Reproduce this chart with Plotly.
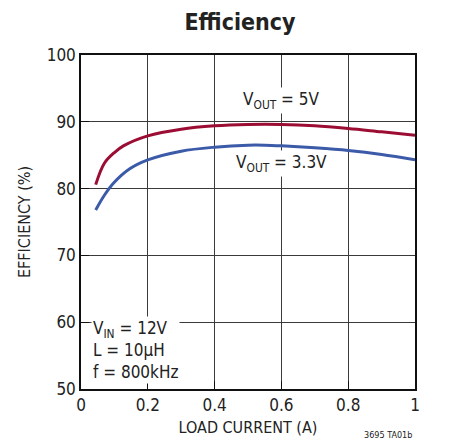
import plotly.graph_objects as go

x_5v = [0.044, 0.07, 0.1, 0.127, 0.2, 0.3, 0.4, 0.5, 0.6, 0.7, 0.8, 0.9, 1.0]
eff_5v = [80.6, 83.8, 85.4, 86.4, 87.9, 88.9, 89.4, 89.6, 89.6, 89.4, 89.0, 88.5, 88.0]
x_33v = [0.044, 0.07, 0.097, 0.147, 0.2, 0.3, 0.4, 0.5, 0.55, 0.6, 0.7, 0.8, 0.9, 1.0]
eff_33v = [76.8, 79.0, 80.8, 83.0, 84.3, 85.6, 86.2, 86.5, 86.5, 86.4, 86.1, 85.7, 85.1, 84.3]

x_ticks = [0, 0.2, 0.4, 0.6, 0.8, 1]
x_tick_labels = ["0", "0.2", "0.4", "0.6", "0.8", "1"]
y_ticks = [50, 60, 70, 80, 90, 100]

FONT = "Liberation Sans Narrow, DejaVu Sans Condensed, Arial Narrow, Liberation Sans, sans-serif"

fig = go.Figure()
fig.add_trace(go.Scatter(x=x_5v, y=eff_5v, mode="lines",
                         line=dict(color="#9c0d34", width=3, shape="spline"),
                         showlegend=False))
fig.add_trace(go.Scatter(x=x_33v, y=eff_33v, mode="lines",
                         line=dict(color="#3b5aa8", width=3, shape="spline"),
                         showlegend=False))

axis_common = dict(showgrid=True, gridcolor="#3a3a3a", gridwidth=1,
                   showline=True, linecolor="#111111", linewidth=1.5, mirror=True,
                   ticks="inside", ticklen=8, tickcolor="#111111", zeroline=False,
                   automargin=False,
                   tickfont=dict(family=FONT, size=17, color="#222222"))

fig.update_xaxes(range=[0, 1], tickvals=x_ticks, ticktext=x_tick_labels,
                 title=dict(text="LOAD CURRENT (A)", font=dict(family=FONT, size=16, color="#222222"),
                            standoff=8),
                 **axis_common)
fig.update_yaxes(range=[50, 100], tickvals=y_ticks,
                 title=dict(text="EFFICIENCY (%)", font=dict(family=FONT, size=16, color="#222222"),
                            standoff=12),
                 **axis_common)

fig.add_annotation(x=0.6, y=93.2, xref="x", yref="y", text="V<sub>OUT</sub> = 5V",
                   showarrow=False, bgcolor="white", font=dict(family=FONT, size=17, color="#222222"))
fig.add_annotation(x=0.6, y=83.7, xref="x", yref="y", text="V<sub>OUT</sub> = 3.3V",
                   showarrow=False, bgcolor="white", font=dict(family=FONT, size=17, color="#222222"))
fig.add_annotation(x=0.03, y=50.7, xref="x", yref="y", xanchor="left", yanchor="bottom",
                   text="V<sub>IN</sub> = 12V<br>L = 10μH<br>f = 800kHz", align="left",
                   showarrow=False, bgcolor="white",
                   font=dict(family=FONT, size=17, color="#222222"))
fig.add_annotation(x=(388-81)/334, y=-(435-389)/334, xref="paper", yref="paper", text="3695 TA01b",
                   xanchor="center", yanchor="middle",
                   showarrow=False, font=dict(family=FONT, size=9, color="#222222"))

fig.update_layout(
    width=452, height=441,
    margin=dict(l=81, r=37, t=55, b=52),
    paper_bgcolor="white", plot_bgcolor="white",
    title=dict(text="<b>Efficiency</b>", x=240/452, xanchor="center", y=1-22/441, yanchor="middle",
               font=dict(family=FONT, size=23, color="#222222")),
)

fig.write_html("out.html", config={"displayModeBar": False},
               post_script="document.body.style.margin='0';document.body.style.overflow='hidden';")
